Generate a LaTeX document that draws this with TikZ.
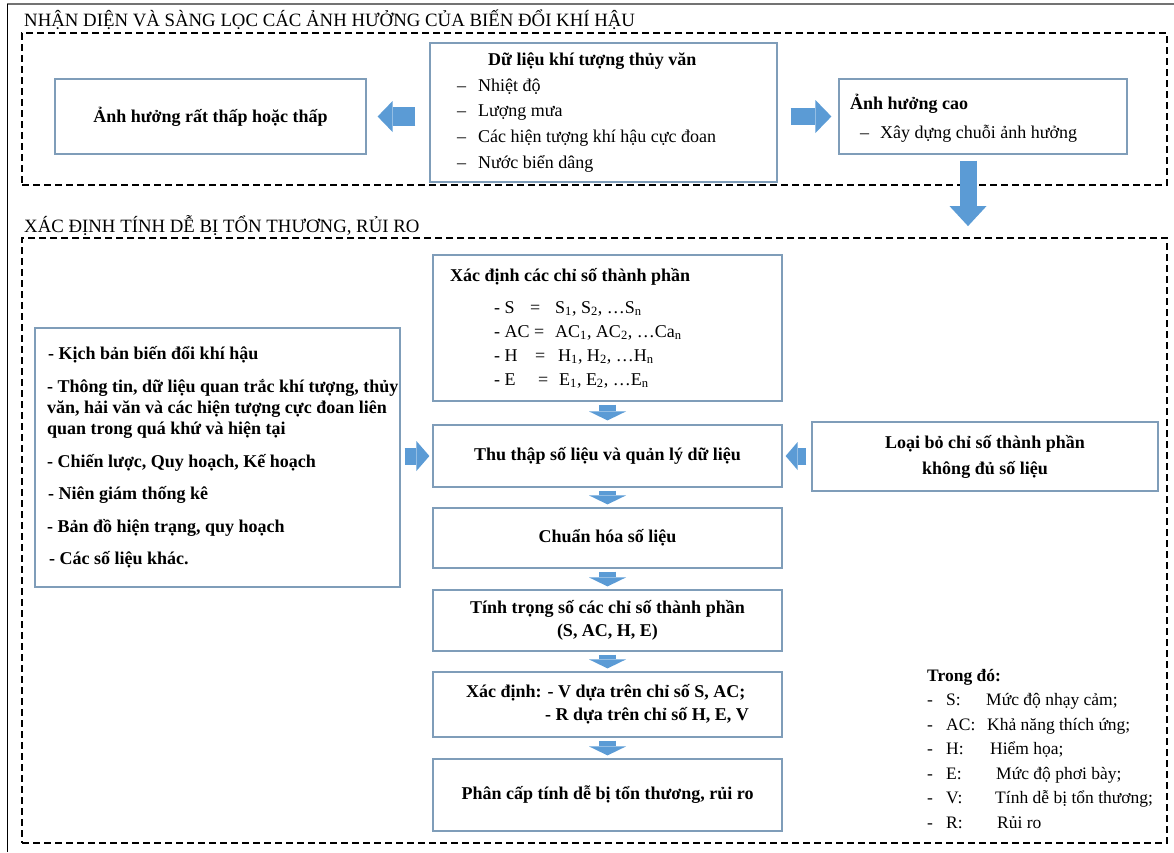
\documentclass[tikz,border=0pt]{standalone}
\usepackage{fontspec}
\setmainfont{Liberation Serif}
\usetikzlibrary{arrows.meta}
\definecolor{boxblue}{RGB}{127,157,185}
\definecolor{arrowblue}{RGB}{91,155,213}

\begin{document}
\begin{tikzpicture}[
                x=1pt, y=-1pt,
                box/.style={draw=boxblue, line width=1.2pt, inner sep=0pt,
                    align=center, font=\fontsize{18}{21}\selectfont\bfseries},
                frame/.style={draw=black, line width=1.8pt,
                    dash pattern=on 7pt off 4pt, inner sep=0pt},
                txt/.style={inner sep=0pt, align=left, anchor=west},
                blk/.style n args={3}{color=arrowblue, line width=#1,
                    -{Triangle[length=#2, width=#3, line width=0pt]}}]
            \useasboundingbox (0,0) rectangle (1174,852);
            \draw[line width=1.5pt, black!55] (7,4) -- (1174,4);
            \draw[line width=1.8pt] (7.5,852) -- (7.5,3.5);

            % top part
            \node[txt, font=\fontsize{18.8}{21}\selectfont] (title_top) at (24,20)
                {NHẬN DIỆN VÀ SÀNG LỌC CÁC ẢNH HƯỞNG CỦA BIẾN ĐỔI KHÍ HẬU};
            \node[frame, minimum width=1145pt, minimum height=152pt] (frame_top) at (594.5,109) {};
            \node[box, minimum width=311pt, minimum height=75pt] (low) at (210.5,116.5)
                {Ảnh hưởng rất thấp hoặc thấp};
            \node[box, minimum width=347pt, minimum height=139pt] (data) at (603.5,112.5) {};
            \node[txt, font=\fontsize{18}{25.7}\selectfont] (data_txt) at (457,112.5)
                {\hspace*{31pt}\textbf{Dữ liệu khí tượng thủy văn}\\
                \makebox[21pt][l]{–}Nhiệt độ\\
                \makebox[21pt][l]{–}Lượng mưa\\
                \makebox[21pt][l]{–}Các hiện tượng khí hậu cực đoan\\
                \makebox[21pt][l]{–}Nước biển dâng};
            \node[box, minimum width=288pt, minimum height=75pt] (high) at (983,116.5) {};
            \node[txt, font=\fontsize{18}{29}\selectfont] (high_txt) at (850,118.5)
                {\textbf{Ảnh hưởng cao}\\
                \hspace*{10pt}\makebox[20pt][l]{–}Xây dựng chuỗi ảnh hưởng};

            % bottom part
            \node[txt, font=\fontsize{18.8}{21}\selectfont] (title_bot) at (24,226)
                {XÁC ĐỊNH TÍNH DỄ BỊ TỔN THƯƠNG, RỦI RO};
            \node[frame, minimum width=1145pt, minimum height=605pt] (frame_bot) at (594.5,540.5) {};
            \node[box, minimum width=349pt, minimum height=146pt] (index) at (607.5,328) {};
            \node[txt, font=\fontsize{18}{24}\selectfont] (index_txt) at (450,328)
                {\textbf{Xác định các chỉ số thành phần}\\[8pt]
                \hspace*{44pt}\makebox[36pt][l]{- S}\makebox[25pt][l]{=}S\textsubscript{1}, S\textsubscript{2}, …S\textsubscript{n}\\
                \hspace*{44pt}\makebox[61pt][l]{- AC =}AC\textsubscript{1}, AC\textsubscript{2}, …Ca\textsubscript{n}\\
                \hspace*{44pt}\makebox[41pt][l]{- H}\makebox[23pt][l]{=}H\textsubscript{1}, H\textsubscript{2}, …H\textsubscript{n}\\
                \hspace*{44pt}\makebox[44pt][l]{- E}\makebox[21pt][l]{=}E\textsubscript{1}, E\textsubscript{2}, …E\textsubscript{n}};
            \node[box, minimum width=365pt, minimum height=259pt] (sources) at (217.5,457.5) {};
            \node[txt, font=\fontsize{18}{21}\selectfont\bfseries] (sources_txt) at (47,457.5)
                {\hspace*{1pt}- Kịch bản biến đổi khí hậu\\[12pt]
                - Thông tin, dữ liệu quan trắc khí tượng, thủy\\
                văn, hải văn và các hiện tượng cực đoan liên\\
                quan trong quá khứ và hiện tại\\[12pt]
                - Chiến lược, Quy hoạch, Kế hoạch\\[11pt]
                \hspace*{1pt}- Niên giám thống kê\\[12pt]
                - Bản đồ hiện trạng, quy hoạch\\[11pt]
                \hspace*{2pt}- Các số liệu khác.};
            \node[box, minimum width=349pt, minimum height=62pt] (collect) at (607.5,456)
                {Thu thập số liệu và quản lý dữ liệu};
            \node[box, minimum width=346pt, minimum height=69pt,
                font=\fontsize{18}{26}\selectfont\bfseries] (drop) at (985,456.5)
                {Loại bỏ chỉ số thành phần\\không đủ số liệu};
            \node[box, minimum width=349pt, minimum height=60pt] (norm) at (607.5,538)
                {Chuẩn hóa số liệu};
            \node[box, minimum width=349pt, minimum height=61pt,
                font=\fontsize{18}{23}\selectfont\bfseries] (weight) at (607.5,620.5)
                {Tính trọng số các chỉ số thành phần\\(S, AC, H, E)};
            \node[box, minimum width=349pt, minimum height=65pt, align=left,
                font=\fontsize{18}{23}\selectfont\bfseries] (calc) at (607.5,704.5)
                {Xác định: - V dựa trên chỉ số S, AC;\\
                \hspace*{79pt}- R dựa trên chỉ số H, E, V};
            \node[box, minimum width=349pt, minimum height=72pt] (rank) at (607.5,795)
                {Phân cấp tính dễ bị tổn thương, rủi ro};
            \node[txt, font=\fontsize{17.5}{24.5}\selectfont] (legend) at (927,749)
                {\textbf{Trong đó:}\\
                \makebox[19pt][l]{-}\makebox[40pt][l]{S:}Mức độ nhạy cảm;\\
                \makebox[19pt][l]{-}\makebox[41pt][l]{AC:}Khả năng thích ứng;\\
                \makebox[19pt][l]{-}\makebox[44pt][l]{H:}Hiểm họa;\\
                \makebox[19pt][l]{-}\makebox[50pt][l]{E:}Mức độ phơi bày;\\
                \makebox[19pt][l]{-}\makebox[49pt][l]{V:}Tính dễ bị tổn thương;\\
                \makebox[19pt][l]{-}\makebox[51pt][l]{R:}Rủi ro};

            % block arrows
            \draw[blk={19pt}{15pt}{31pt}, shorten <=14pt, shorten >=11pt]
                (data.west |- low.east) -- (low.east);
            \draw[blk={17pt}{16pt}{33pt}, shorten <=13pt, shorten >=7pt]
                (data.east |- high.west) -- (high.west);
            \draw[blk={17pt}{20pt}{37pt}, shorten <=6pt, shorten >=11pt]
                ([xshift=-15pt]high.south) -- ([xshift=-15pt]high.south |- frame_bot.north);
            \draw[blk={17pt}{13pt}{30pt}, shorten <=4pt, shorten >=3pt]
                (sources.east |- collect.west) -- (collect.west);
            \draw[blk={17pt}{12pt}{28pt}, shorten <=5pt, shorten >=3pt]
                (drop.west |- collect.east) -- (collect.east);
            \path[blk={17pt}{9pt}{37pt}, shorten <=3pt, shorten >=3pt]
                (index) edge[shorten >=4pt] (collect)
                (collect) edge (norm)
                (norm) edge (weight)
                (weight) edge (calc)
                (calc) edge (rank);
        \end{tikzpicture}
\end{document}
